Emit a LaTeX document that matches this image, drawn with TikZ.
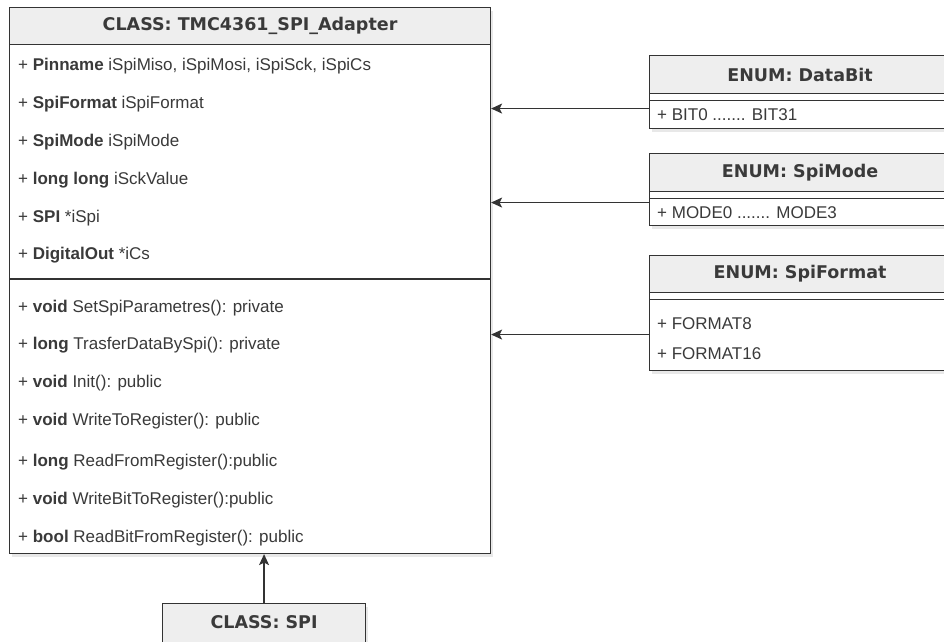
\documentclass[tikz,border=0pt]{standalone}
\usepackage{fontspec}
\setmainfont{Liberation Sans}
\newfontfamily\headfont{DejaVu Sans}
\usetikzlibrary{arrows.meta, shadows}

\definecolor{headgray}{HTML}{EEEEEE}
\definecolor{linegray}{HTML}{333333}
\definecolor{textgray}{HTML}{3A3A3A}

\begin{document}
\begin{tikzpicture}[
    x=1pt, y=-1pt,
    box/.style={rectangle, draw=linegray, line width=1.1pt, fill=white, anchor=north west, inner sep=0pt,
        drop shadow={shadow xshift=2pt, shadow yshift=-3pt, opacity=0.18}},
    head/.style={rectangle, draw=linegray, line width=1.1pt, fill=headgray, anchor=north west, inner sep=0pt,
        font=\headfont\bfseries\fontsize{17.5}{20}\selectfont, text=textgray},
    member/.style={anchor=west, inner sep=0pt, text height=12pt, text depth=0pt,
        font=\fontsize{17}{20}\selectfont, text=textgray},
    sepline/.style={draw=linegray, line width=1.1pt},
    arrow/.style={-{Stealth[length=11pt, width=10pt, inset=2.5pt]}, draw=linegray, line width=1.3pt}
]
\useasboundingbox (0,0) rectangle (944,641);

% Main class
\node[box, minimum width=481pt, minimum height=546pt] (adapter) at (9,7) {};
\node[head, minimum width=481pt, minimum height=37pt] (adapterhead) at (9,7) {CLASS: TMC4361\_SPI\_Adapter};
\draw[sepline] (adapter.west |- 0,279) -- (adapter.east |- 0,279);

% Attributes
\node[member] (attr1) at (18,64) {+ \textbf{Pinname} iSpiMiso, iSpiMosi, iSpiSck, iSpiCs};
\node[member] (attr2) at (18,102) {+ \textbf{SpiFormat} iSpiFormat};
\node[member] (attr3) at (18,140) {+ \textbf{SpiMode} iSpiMode};
\node[member] (attr4) at (18,178) {+ \textbf{long long} iSckValue};
\node[member] (attr5) at (18,216) {+ \textbf{SPI} *iSpi};
\node[member] (attr6) at (18,253) {+ \textbf{DigitalOut} *iCs};

% Methods
\node[member] (meth1) at (18,306) {+ \textbf{void} SetSpiParametres(): private};
\node[member] (meth2) at (18,343) {+ \textbf{long} TrasferDataBySpi(): private};
\node[member] (meth3) at (18,381) {+ \textbf{void} Init(): public};
\node[member] (meth4) at (18,419) {+ \textbf{void} WriteToRegister(): public};
\node[member] (meth5) at (18,460) {+ \textbf{long} ReadFromRegister():public};
\node[member] (meth6) at (18,498) {+ \textbf{void} WriteBitToRegister():public};
\node[member] (meth7) at (18,536) {+ \textbf{bool} ReadBitFromRegister(): public};

% Enums
\node[box, minimum width=301pt, minimum height=73pt] (databit) at (649,55) {};
\node[head, minimum width=301pt, minimum height=38pt] (databithead) at (649,55) {ENUM: DataBit};
\draw[sepline] ([yshift=-6pt]databithead.south west) -- ([yshift=-6pt]databithead.south east);
\node[member] (bits) at (657,114) {+ BIT0 ....... BIT31};

\node[box, minimum width=301pt, minimum height=72pt] (spimode) at (649,153) {};
\node[head, minimum width=301pt, minimum height=38pt] (spimodehead) at (649,153) {ENUM: SpiMode};
\draw[sepline] ([yshift=-6pt]spimodehead.south west) -- ([yshift=-6pt]spimodehead.south east);
\node[member] (modes) at (657,212) {+ MODE0 ....... MODE3};

\node[box, minimum width=301pt, minimum height=115pt] (spiformat) at (649,255) {};
\node[head, minimum width=301pt, minimum height=37pt] (spiformathead) at (649,255) {ENUM: SpiFormat};
\draw[sepline] ([yshift=-6pt]spiformathead.south west) -- ([yshift=-6pt]spiformathead.south east);
\node[member] (fmt8) at (657,323) {+ FORMAT8};
\node[member] (fmt16) at (657,353) {+ FORMAT16};

% Subclass
\node[head, minimum width=203pt, minimum height=40pt,
      drop shadow={shadow xshift=2pt, shadow yshift=-3pt, opacity=0.18}] (spi) at (162,603) {};
\node[font=\headfont\bfseries\fontsize{17.5}{20}\selectfont, text=textgray] (spilabel) at (spi.center |- 0,622) {CLASS: SPI};

% Arrows
\draw[arrow] ([yshift=-16.5pt]databit.west) -- ([yshift=-16.5pt]databit.west -| adapter.east);
\draw[arrow] ([yshift=-13pt]spimode.west) -- ([yshift=-13pt]spimode.west -| adapter.east);
\draw[arrow] ([yshift=-21.5pt]spiformat.west) -- ([yshift=-21.5pt]spiformat.west -| adapter.east);
\draw[arrow] (spi.north) -- (spi.north |- adapter.south);

\end{tikzpicture}
\end{document}
